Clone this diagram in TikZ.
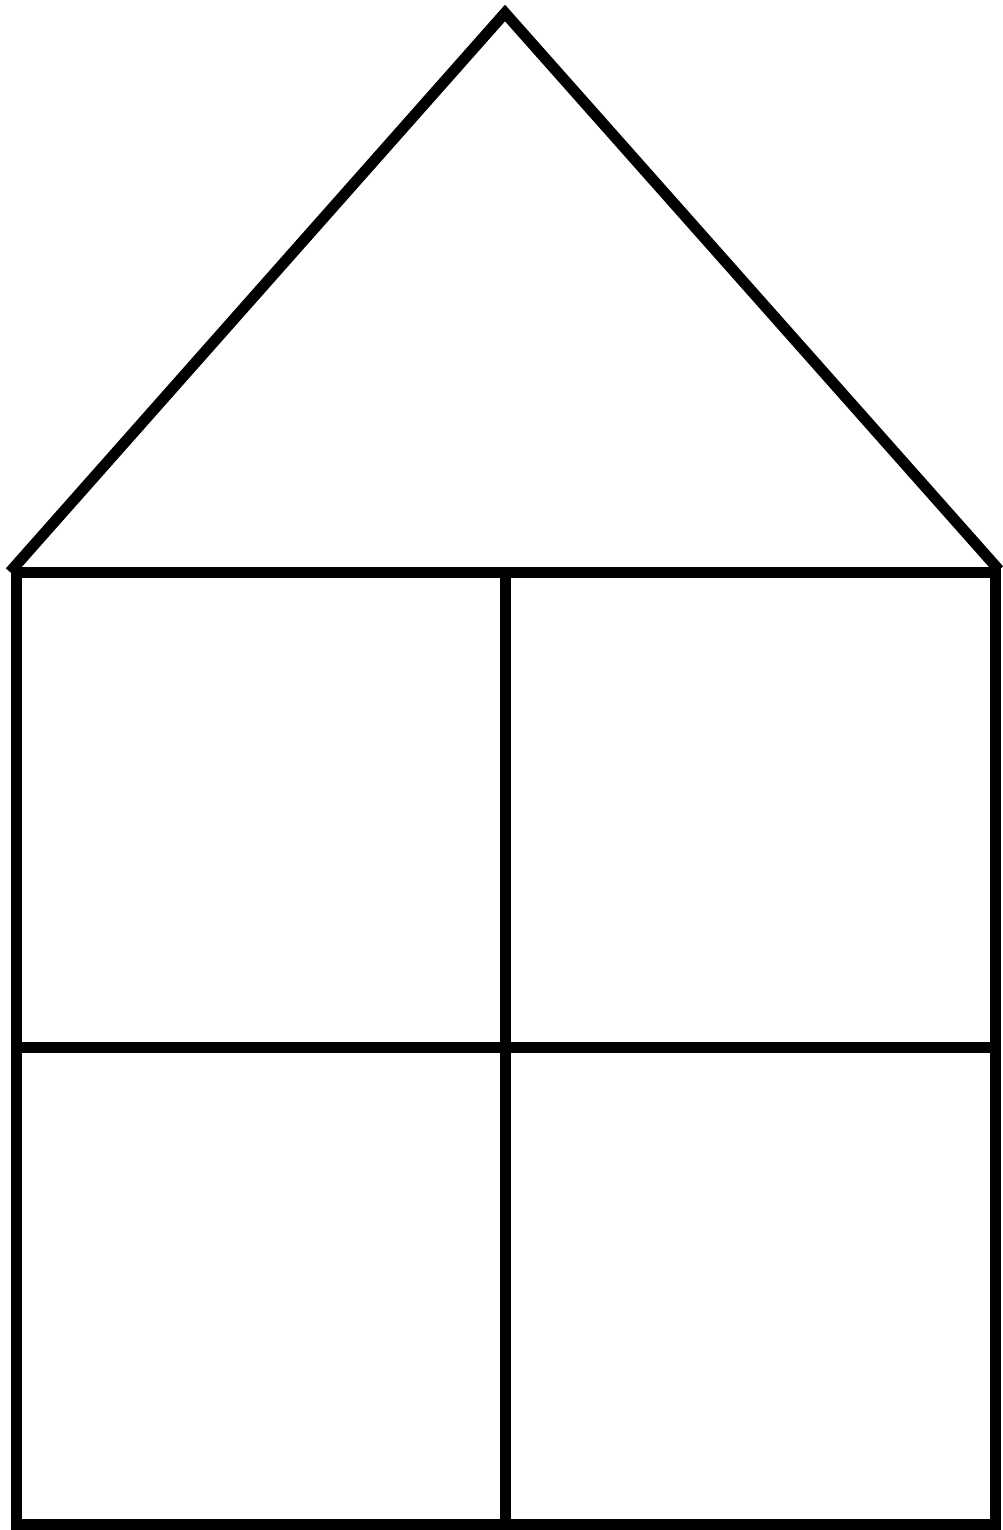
\documentclass[tikz,border=0pt]{standalone}
\begin{document}
\begin{tikzpicture}[x=1pt,y=-1pt,
  wall/.style={draw=black,line width=11pt,line join=miter},
  roof/.style={draw=black,line width=11pt,line join=miter,line cap=butt}]
\useasboundingbox (0,0) rectangle (1002,1530);
\coordinate (rl) at (10,572);
\coordinate (apex) at (505,13);
\coordinate (rr) at (999,570);
\draw[roof] (rl) -- (apex) -- (rr);
\draw[wall] (16,572) rectangle (995,1524.5);
\draw[wall] (505.5,572) -- (505.5,1524.5);
\draw[wall] (16,1047.5) -- (995,1047.5);
\end{tikzpicture}
\end{document}
